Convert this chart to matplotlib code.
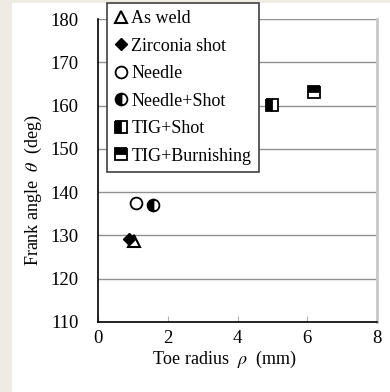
import matplotlib
matplotlib.use("Agg")
import matplotlib.pyplot as plt
from matplotlib.patches import Rectangle

plt.rcParams['font.family'] = ['Liberation Serif', 'DejaVu Serif']
plt.rcParams['mathtext.fontset'] = 'stix'

labels = ['As weld', 'Zirconia shot', 'Needle', 'Needle+Shot', 'TIG+Shot', 'TIG+Burnishing']
toe_radius = [1.03, 0.88, 1.08, 1.58, 5.0, 6.2]
frank_angle = [128.8, 129.2, 137.6, 137.1, 160.2, 163.2]
x_ticks = [0, 2, 4, 6, 8]
y_ticks = [110, 120, 130, 140, 150, 160, 170, 180]

styles = [
    dict(marker='^', markersize=9, markerfacecolor='white', markeredgecolor='black', markeredgewidth=1.5),
    dict(marker='D', markersize=6.5, markerfacecolor='black', markeredgecolor='black'),
    dict(marker='o', markersize=8.5, markerfacecolor='white', markeredgecolor='black', markeredgewidth=1.3),
    dict(marker='o', markersize=8.5, fillstyle='left', markerfacecolor='black', markerfacecoloralt='white',
         markeredgecolor='black', markeredgewidth=1.3),
    dict(marker='s', markersize=8, fillstyle='left', markerfacecolor='black', markerfacecoloralt='white',
         markeredgecolor='black', markeredgewidth=1.3),
    dict(marker='s', markersize=8, fillstyle='top', markerfacecolor='black', markerfacecoloralt='white',
         markeredgecolor='black', markeredgewidth=1.3),
]

fig = plt.figure(figsize=(3.9, 3.92), dpi=100)
fig.patch.set_facecolor('#eeebe2')
fig.add_artist(Rectangle((12/390, 0), 1, (392-3)/392, transform=fig.transFigure,
                         facecolor='white', edgecolor='none', zorder=0))

ax = fig.add_axes([98/390, 1-322/392, (377-98)/390, (322-19)/392])
ax.set_facecolor('white')

handles = []
for xv, yv, lab, st in zip(toe_radius, frank_angle, labels, styles):
    h, = ax.plot([xv], [yv], linestyle='none', label=lab, zorder=3, **st)
    handles.append(h)

ax.set_xlim(0, 8)
ax.set_ylim(110, 180)
ax.set_xticks(x_ticks)
ax.set_yticks(y_ticks)
ax.yaxis.grid(True, color='#909090', linewidth=1.0)
ax.set_axisbelow(True)

ax.spines['top'].set_visible(False)
ax.spines['right'].set_color('#c8c8c8')
ax.spines['right'].set_linewidth(2)
ax.spines['left'].set_color('black')
ax.spines['bottom'].set_color('black')
ax.spines['left'].set_linewidth(1.2)
ax.spines['bottom'].set_linewidth(1.2)

ax.tick_params(axis='x', direction='in', length=4, color='#b0b0b0', labelsize=13.5, pad=6)
ax.tick_params(axis='y', length=0, labelsize=13.5, pad=14)

ax.set_xlabel(r'Toe radius  $\rho$  (mm)', fontsize=13)
ax.set_ylabel(r'Frank angle  $\theta$  (deg)', fontsize=13)
ax.xaxis.set_label_coords(0.452, -0.09)
ax.yaxis.set_label_coords(-0.193, 0.436)

leg = ax.legend(handles=handles, loc='upper left',
                bbox_to_anchor=(107/390, 1-3/392), bbox_transform=fig.transFigure,
                fontsize=13, frameon=True, fancybox=False, framealpha=1,
                handlelength=0.8, handletextpad=0.15, labelspacing=0.58,
                borderpad=0.4, borderaxespad=0)
leg.get_frame().set_edgecolor('#404040')
leg.get_frame().set_linewidth(1.2)
leg.set_zorder(5)

fig.savefig('out.png', dpi=100, facecolor=fig.get_facecolor())
